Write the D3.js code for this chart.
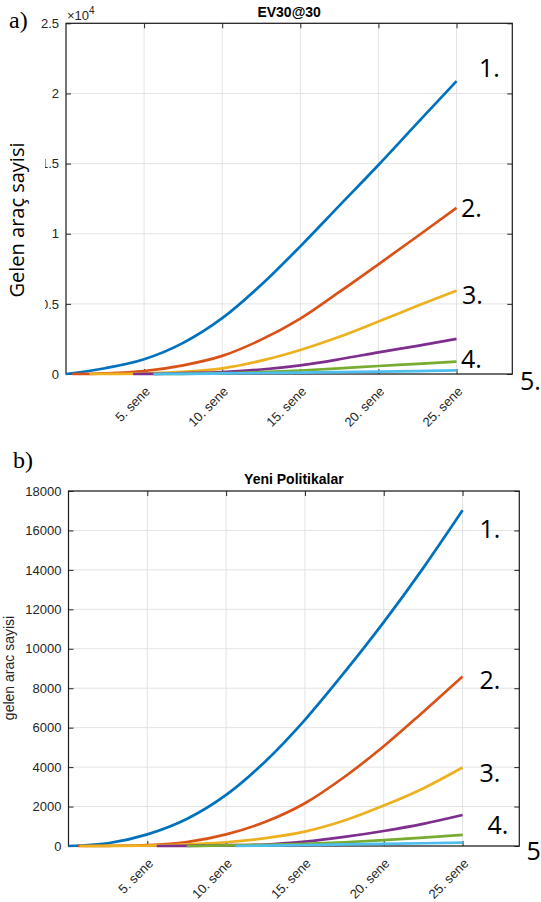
<!DOCTYPE html>
<html>
<head>
<meta charset="utf-8">
<script src="https://cdn.jsdelivr.net/npm/d3@7"></script>
<style>
  body { margin: 0; background: #fff; }
  svg { display: block; }
</style>
</head>
<body>
<svg id="drawing_region"></svg>
<script>
// sample years (x axis, in "sene")
const years = [0, 2.5, 5, 7.5, 10, 12.5, 15, 17.5, 20, 22.5, 25];
const xTicks = [5, 10, 15, 20, 25];

// a) EV30@30 - year at which each curve leaves zero, then values per sample year
const startA  = [0, 0.4, 1.5, 4.3, 5.6, 5.6];
const blueA   = [0, 410, 1050, 2220, 3980, 6360, 9100, 12000, 14900, 17900, 20880];
const orangeA = [null, 50, 214, 620, 1290, 2450, 3950, 5850, 7820, 9820, 11840];
const yellowA = [null, 5, 50, 150, 400, 950, 1710, 2650, 3740, 4860, 5950];
const purpleA = [null, null, 5, 60, 130, 320, 620, 1050, 1540, 2010, 2500];
const greenA  = [null, null, null, 15, 60, 130, 250, 400, 570, 720, 880];
const cyanA   = [null, null, null, 10, 40, 70, 100, 140, 170, 210, 260];
const yTicksA = [0, 5000, 10000, 15000, 20000, 25000];

// b) Yeni Politikalar
const startB  = [0, 0.6, 0.7, 5.6, 7.5, 10.6];
const blueB   = [0, 140, 590, 1370, 2590, 4300, 6400, 8800, 11350, 14090, 17020];
const orangeB = [null, 10, 50, 200, 590, 1230, 2170, 3500, 5060, 6800, 8590];
const yellowB = [null, 5, 20, 80, 190, 400, 730, 1290, 2050, 2920, 3980];
const purpleB = [null, null, null, 10, 40, 75, 220, 460, 760, 1120, 1570];
const greenB  = [null, null, null, null, 30, 60, 110, 190, 300, 420, 560];
const cyanB   = [null, null, null, null, null, 20, 50, 80, 110, 140, 170];
const yTicksB = [0, 2000, 4000, 6000, 8000, 10000, 12000, 14000, 16000, 18000];

const curveLabels = ['1.', '2.', '3.', '4.', '5.'];

const colors = ['#0072BD', '#D95319', '#EDB120', '#7E2F8E', '#77AC30', '#4DBEEE'];

function toPoints(start, values){
    let pts = [[start, 0]];
    years.forEach((y, i) => {
        if (y > start && values[i] != null) pts.push([y, values[i]]);
    });
    return pts;
}

const seriesA = [blueA, orangeA, yellowA, purpleA, greenA, cyanA].map((v, i) => toPoints(startA[i], v));
const seriesB = [blueB, orangeB, yellowB, purpleB, greenB, cyanB].map((v, i) => toPoints(startB[i], v));

const svg = d3.select('#drawing_region')
    .attr('width', 541)
    .attr('height', 902);

class LineChart{
    constructor( config, data ){
        this.config = config;
        this.data = data;
        this.init();
    }

    init(){
        let self = this;
        let c = self.config;

        self.chart = svg.append('g')
            .attr('transform', `translate(${c.left}, ${c.top})`);

        self.inner_width = c.width;
        self.inner_height = c.height;

        self.xscale = d3.scaleLinear()
            .domain([0, c.xmax])
            .range([0, self.inner_width]);

        self.yscale = d3.scaleLinear()
            .domain([0, c.ymax])
            .range([self.inner_height, 0]);

        self.line = d3.line()
            .x(d => self.xscale(d[0]))
            .y(d => self.yscale(d[1]))
            .curve(d3.curveMonotoneX);
    }

    render(){
        let self = this;
        let c = self.config;
        const font = '"Liberation Sans", Arial, sans-serif';
        const axisColor = '#262626';

        // grid
        self.chart.append('g')
            .selectAll('line.vg').data(xTicks).enter().append('line')
            .attr('x1', d => self.xscale(d)).attr('x2', d => self.xscale(d))
            .attr('y1', 0).attr('y2', self.inner_height)
            .attr('stroke', '#e3e3e3').attr('stroke-width', 1);
        self.chart.append('g')
            .selectAll('line.hg').data(c.yticks).enter().append('line')
            .attr('x1', 0).attr('x2', self.inner_width)
            .attr('y1', d => self.yscale(d)).attr('y2', d => self.yscale(d))
            .attr('stroke', '#e3e3e3').attr('stroke-width', 1);

        // axes with inward ticks
        const xb = self.chart.append('g')
            .attr('transform', `translate(0, ${self.inner_height})`)
            .call(d3.axisBottom(self.xscale).tickValues(xTicks).tickSize(-5).tickSizeOuter(0)
                  .tickFormat(d => d + '. sene'));
        xb.selectAll('text')
            .attr('y', 0).attr('dy', '0.35em')
            .attr('text-anchor', 'end')
            .attr('transform', 'translate(3, 15) rotate(-45)');

        self.chart.append('g')
            .call(d3.axisLeft(self.yscale).tickValues(c.yticks).tickSize(-5).tickSizeOuter(0)
                  .tickPadding(7).tickFormat(c.yformat));

        self.chart.append('g')
            .call(d3.axisTop(self.xscale).tickValues(xTicks).tickSize(-5).tickSizeOuter(0).tickFormat(''));
        self.chart.append('g')
            .attr('transform', `translate(${self.inner_width}, 0)`)
            .call(d3.axisRight(self.yscale).tickValues(c.yticks).tickSize(-5).tickSizeOuter(0).tickFormat(''));

        self.chart.selectAll('.domain').remove();
        self.chart.selectAll('.tick line').attr('stroke', axisColor);
        self.chart.selectAll('.tick text')
            .attr('fill', axisColor)
            .style('font-family', font)
            .style('font-size', '13px');

        // box
        self.chart.append('rect')
            .attr('x', 0).attr('y', 0)
            .attr('width', self.inner_width).attr('height', self.inner_height)
            .attr('fill', 'none')
            .attr('stroke', '#1a1a1a')
            .attr('stroke-width', 1.2);

        // lines
        self.chart.selectAll('path.series')
            .data(self.data)
            .enter()
            .append('path')
            .attr('class', 'series')
            .attr('d', d => self.line(d))
            .attr('fill', 'none')
            .attr('stroke', (d, i) => colors[i])
            .attr('stroke-width', 2.7)
            .attr('stroke-linejoin', 'round');

        // title
        self.chart.append('text')
            .attr('x', self.inner_width / 2)
            .attr('y', c.titleY)
            .attr('text-anchor', 'middle')
            .style('font-family', font)
            .style('font-weight', 'bold')
            .style('font-size', '14px')
            .attr('fill', '#000')
            .text(c.title);

        // curve numbers
        self.chart.selectAll('text.num')
            .data(curveLabels)
            .enter()
            .append('text')
            .attr('class', 'num')
            .attr('x', (d, i) => c.numPos[i][0])
            .attr('y', (d, i) => c.numPos[i][1])
            .style('font-family', '"Open Sans", "Noto Sans", sans-serif')
            .style('font-size', '25px')
            .attr('fill', '#000')
            .text(d => d);
    }
}

const chartA = new LineChart({
    left: 66, top: 23.3, width: 446.3, height: 350.7,
    xmax: 28.57, ymax: 25000,
    yticks: yTicksA,
    yformat: d => d3.format('')(d / 10000),
    title: 'EV30@30', titleY: -6,
    numPos: [[413, 54], [395, 194], [396, 281], [395, 345], [454, 367]]
}, seriesA);
chartA.render();

const chartB = new LineChart({
    left: 68.5, top: 491, width: 450.8, height: 355,
    xmax: 28.6, ymax: 18000,
    yticks: yTicksB,
    yformat: d => d,
    title: 'Yeni Politikalar', titleY: -7,
    numPos: [[411, 47], [411, 198], [411, 291], [419, 343], [458, 369]]
}, seriesB);
chartB.render();

// exponent of panel a
svg.append('text')
    .attr('x', 67).attr('y', 20)
    .style('font-family', '"Liberation Sans", Arial, sans-serif')
    .style('font-size', '13px')
    .attr('fill', '#262626')
    .text('\u00d710')
    .append('tspan')
    .attr('dy', -6)
    .style('font-size', '10px')
    .text('4');

// panel a y label sits on a white box that hides part of the tick labels
svg.append('rect')
    .attr('x', 0).attr('y', 120)
    .attr('width', 45).attr('height', 200)
    .attr('fill', '#fff');
svg.append('text')
    .attr('transform', 'translate(24, 220) rotate(-90)')
    .attr('text-anchor', 'middle')
    .style('font-family', '"Open Sans", "Noto Sans", sans-serif')
    .style('font-size', '20px')
    .attr('fill', '#000')
    .text('Gelen araç sayisi');

svg.append('text')
    .attr('transform', 'translate(14, 668) rotate(-90)')
    .attr('text-anchor', 'middle')
    .style('font-family', '"Liberation Sans", Arial, sans-serif')
    .style('font-size', '14px')
    .attr('fill', '#262626')
    .text('gelen arac sayisi');

// panel letters
svg.append('text')
    .attr('x', 9).attr('y', 28)
    .style('font-family', '"Liberation Serif", "Times New Roman", serif')
    .style('font-size', '24px')
    .attr('fill', '#000')
    .text('a)');
svg.append('text')
    .attr('x', 13).attr('y', 468)
    .style('font-family', '"Liberation Serif", "Times New Roman", serif')
    .style('font-size', '24px')
    .attr('fill', '#000')
    .text('b)');
</script>
</body>
</html>
